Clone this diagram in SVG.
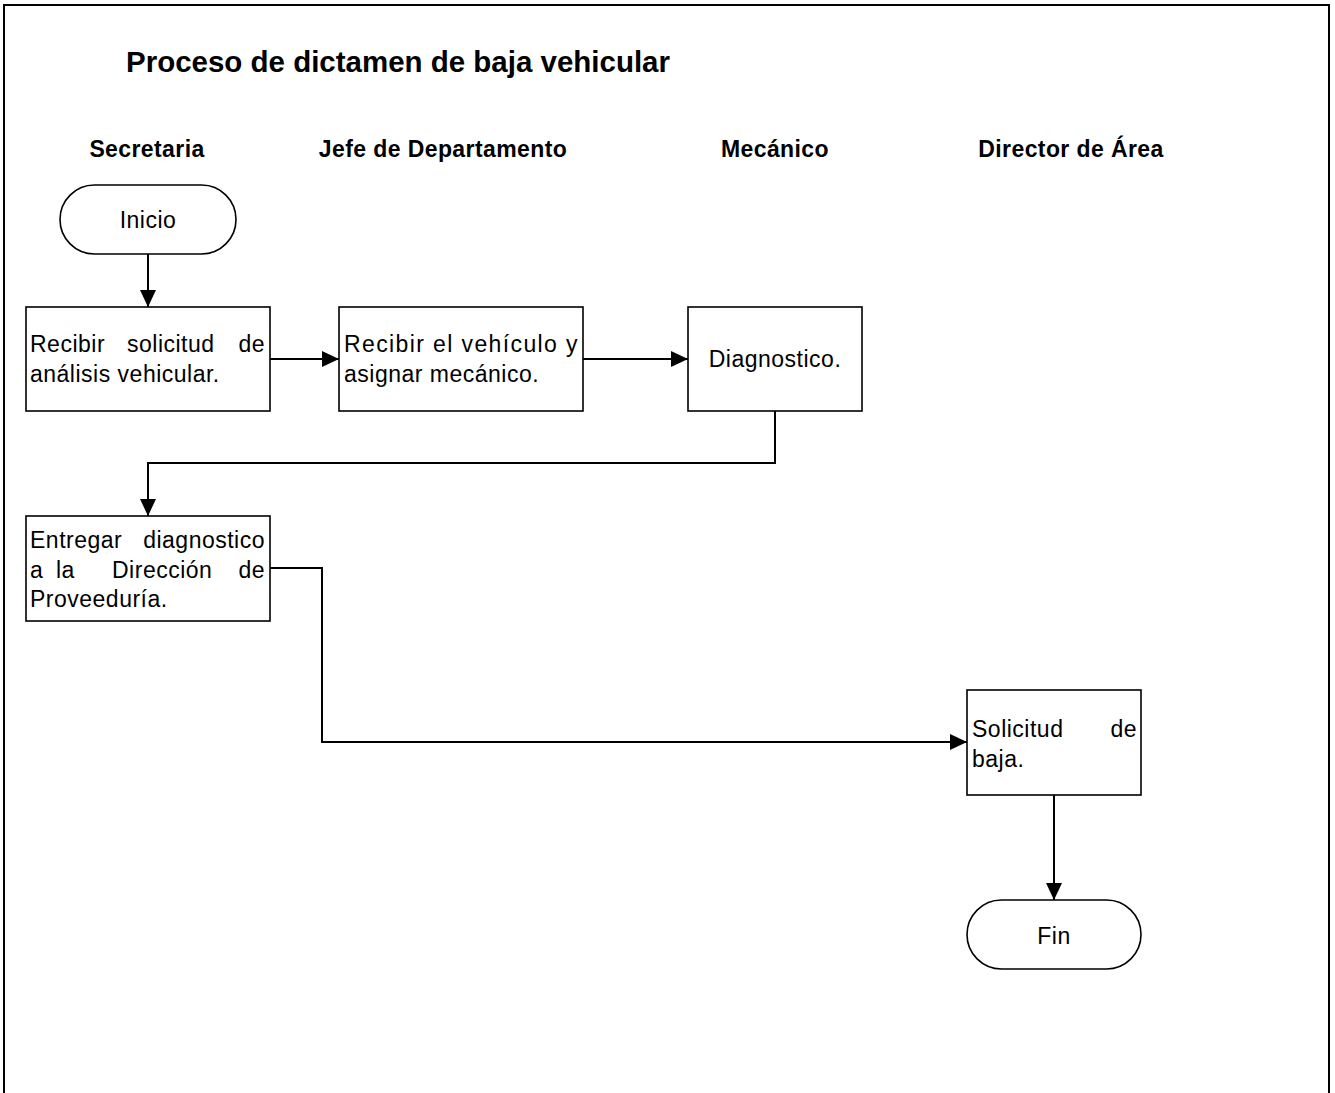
<svg xmlns="http://www.w3.org/2000/svg" width="1335" height="1093" viewBox="0 0 1335 1093">
  <style>
    .frame { fill: none; stroke: #000; stroke-width: 2; }
    .box { fill: #fff; stroke: #000; stroke-width: 1.6; }
    .wire { fill: none; stroke: #000; stroke-width: 2; }
    .title { font-family: "Liberation Sans", Arial, sans-serif; font-weight: bold; font-size: 30px; fill: #000; }
    .lane { font-family: "Liberation Sans", Arial, sans-serif; font-weight: bold; font-size: 23px; letter-spacing: 0.4px; fill: #000; text-anchor: middle; }
    .txt { font-family: "Liberation Sans", Arial, sans-serif; font-size: 23px; letter-spacing: 0.5px; fill: #000; }
    .mid { text-anchor: middle; }
    .end { text-anchor: end; }
  </style>
  <defs>
    <marker id="arrow" viewBox="0 0 17 16" refX="17" refY="8" markerWidth="17" markerHeight="16" markerUnits="userSpaceOnUse" orient="auto">
      <path d="M0,0 L17,8 L0,16 Z" fill="#000"/>
    </marker>
  </defs>

  <rect width="1335" height="1093" fill="#fff"/>
  <path class="frame" d="M4,1095 V5 H1329 V1095"/>

  <text class="title" x="126" y="72" textLength="544" lengthAdjust="spacingAndGlyphs">Proceso de dictamen de baja vehicular</text>

  <g id="lanes">
    <text class="lane" x="147" y="157">Secretaria</text>
    <text class="lane" x="443" y="157">Jefe de Departamento</text>
    <text class="lane" x="775" y="157">Mecánico</text>
    <text class="lane" x="1071" y="157">Director de Área</text>
  </g>

  <g id="connectors">
    <path class="wire" d="M148,254 V307" marker-end="url(#arrow)"/>
    <path class="wire" d="M270,359 H339" marker-end="url(#arrow)"/>
    <path class="wire" d="M583,359 H688" marker-end="url(#arrow)"/>
    <path class="wire" d="M775,411 V463 H148 V516" marker-end="url(#arrow)"/>
    <path class="wire" d="M270,568 H322 V742 H967" marker-end="url(#arrow)"/>
    <path class="wire" d="M1054,795 V900" marker-end="url(#arrow)"/>
  </g>

  <g id="inicio">
    <rect class="box" x="60" y="185" width="176" height="69" rx="34.5" ry="34.5"/>
    <text class="txt mid" x="148" y="228">Inicio</text>
  </g>

  <g id="recibir-solicitud">
    <rect class="box" x="26" y="307" width="244" height="104"/>
    <text class="txt" x="30" y="352">Recibir</text>
    <text class="txt" x="127" y="352">solicitud</text>
    <text class="txt end" x="265" y="352">de</text>
    <text class="txt" x="30" y="382">análisis vehicular.</text>
  </g>

  <g id="recibir-vehiculo">
    <rect class="box" x="339" y="307" width="244" height="104"/>
    <text class="txt" x="344" y="352" textLength="234" lengthAdjust="spacing">Recibir el vehículo y</text>
    <text class="txt" x="344" y="382">asignar mecánico.</text>
  </g>

  <g id="diagnostico">
    <rect class="box" x="688" y="307" width="174" height="104"/>
    <text class="txt mid" x="775" y="367">Diagnostico.</text>
  </g>

  <g id="entregar-diagnostico">
    <rect class="box" x="26" y="516" width="244" height="105"/>
    <text class="txt" x="30" y="548">Entregar</text>
    <text class="txt end" x="265" y="548">diagnostico</text>
    <text class="txt" x="30" y="578">a</text>
    <text class="txt" x="56" y="578">la</text>
    <text class="txt" x="112" y="578">Dirección</text>
    <text class="txt end" x="265" y="578">de</text>
    <text class="txt" x="30" y="607">Proveeduría.</text>
  </g>

  <g id="solicitud-baja">
    <rect class="box" x="967" y="690" width="174" height="105"/>
    <text class="txt" x="972" y="737">Solicitud</text>
    <text class="txt end" x="1137" y="737">de</text>
    <text class="txt" x="972" y="767">baja.</text>
  </g>

  <g id="fin">
    <rect class="box" x="967" y="900" width="174" height="69" rx="34.5" ry="34.5"/>
    <text class="txt mid" x="1054" y="944">Fin</text>
  </g>
</svg>
